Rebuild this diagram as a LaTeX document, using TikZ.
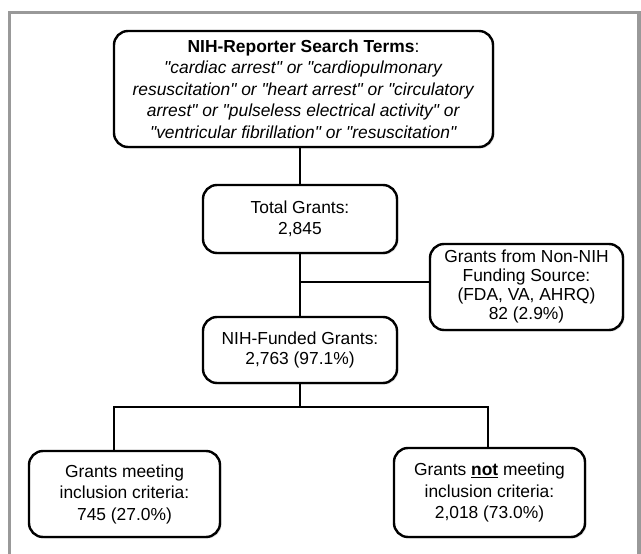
\documentclass[tikz,border=0pt]{standalone}
\usepackage{fontspec}
\setmainfont{Liberation Sans}[Ligatures=TeXOff]
\usetikzlibrary{shadows}
\begin{document}
\begin{tikzpicture}[x=1pt,y=-1pt,
  box/.style={draw=black, line width=2.4pt, rounded corners=14pt, fill=white,
    align=center, inner sep=0pt,
    font=\fontsize{17.4pt}{20.5pt}\selectfont,
    drop shadow={opacity=0.25, shadow xshift=1.5pt, shadow yshift=-1.5pt}},
  conn/.style={draw=black, line width=2pt}]
\useasboundingbox (0,0) rectangle (641,554);
\draw[draw=black!40, line width=3.5pt] (9.5,570) -- (9.5,12.5) -- (639,12.5) -- (639,570);

\node[box, minimum width=379pt, minimum height=116pt, font=\fontsize{17.4pt}{21.5pt}\selectfont] (top) at (303.5,89)
  {\textbf{NIH-Reporter Search Terms}:\\
   \textit{"cardiac arrest" or "cardiopulmonary}\\
   \textit{resuscitation" or "heart arrest" or "circulatory}\\
   \textit{arrest" or "pulseless electrical activity" or}\\
   \textit{"ventricular fibrillation" or "resuscitation"}};
\node[box, minimum width=194pt, minimum height=68pt] (tg) at (300,219) {Total Grants:\\2,845};
\node[box, minimum width=193pt, minimum height=86pt, font=\fontsize{17.4pt}{19pt}\selectfont] (non) at (526.5,287)
  {Grants from Non-NIH\\Funding Source:\\(FDA, VA, AHRQ)\\82 (2.9\%)};
\node[box, minimum width=194pt, minimum height=66pt] (nih) at (300,350) {NIH-Funded Grants:\\2,763 (97.1\%)};
\node[box, minimum width=191pt, minimum height=86pt, font=\fontsize{17.4pt}{21.5pt}\selectfont] (inc) at (124.5,494)
  {Grants meeting\\inclusion criteria:\\745 (27.0\%)};
\node[box, minimum width=191pt, minimum height=89pt, font=\fontsize{17.4pt}{21.5pt}\selectfont] (exc) at (489.5,492.5)
  {Grants \underline{\textbf{not}} meeting\\inclusion criteria:\\2,018 (73.0\%)};

\coordinate (j) at (300,282);
\coordinate (bar) at (300,407);
\coordinate (bl) at (114,407);
\coordinate (br) at (488,407);

\draw[conn] (tg.north |- top.south) -- (tg.north);
\draw[conn] (tg.south) -- (nih.north);
\draw[conn] (j) -- (non.west |- j);
\draw[conn] (nih.south) -- (bar);
\draw[conn] (inc.north -| bl) -- (bl) -- (br) -- (exc.north -| br);
\end{tikzpicture}
\end{document}
